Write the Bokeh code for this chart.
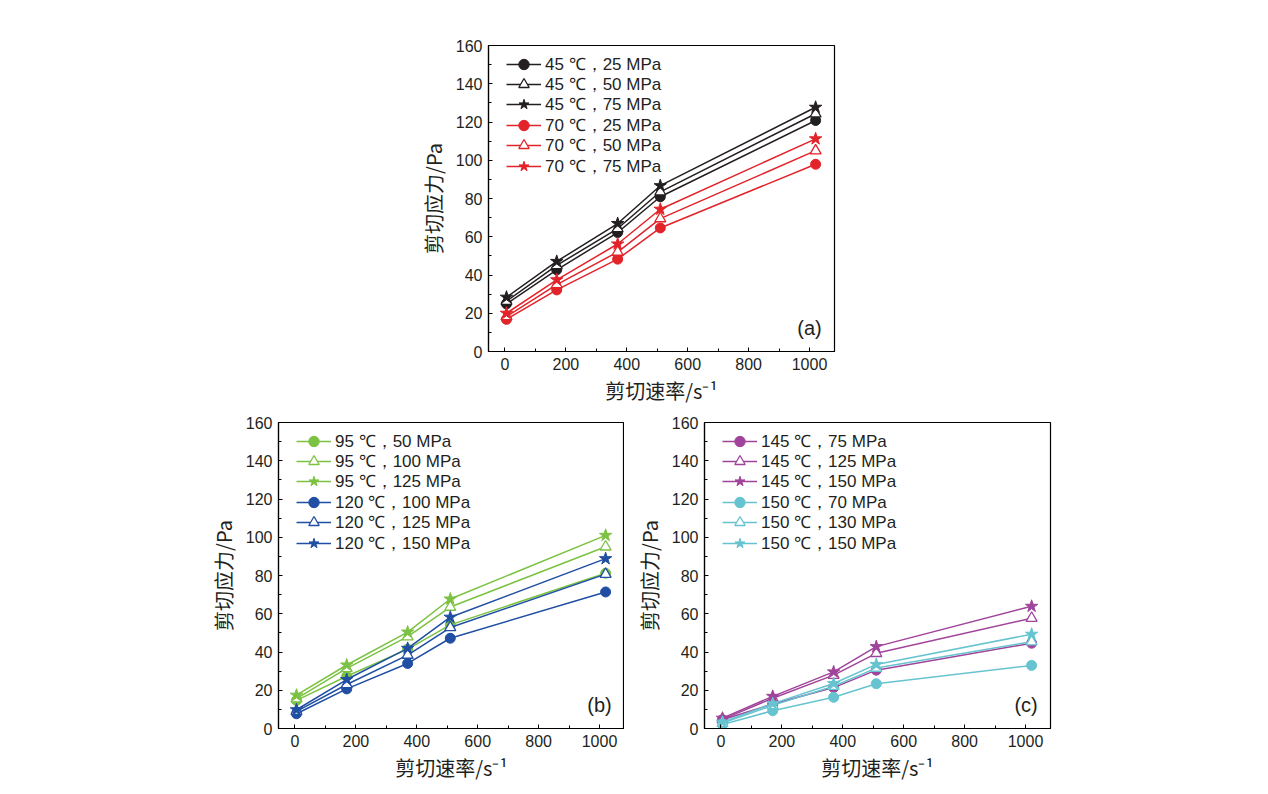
from bokeh.plotting import figure
from bokeh.models import Legend, LegendItem, Label, SingleIntervalTicker, Spacer
from bokeh.layouts import column, row
from bokeh.embed import file_html
from bokeh.resources import INLINE

# shear rate (s^-1)
shear_rate = [5, 170, 370, 510, 1020]

# panel (a)
a_labels = ["45 ℃，25 MPa", "45 ℃，50 MPa", "45 ℃，75 MPa",
            "70 ℃，25 MPa", "70 ℃，50 MPa", "70 ℃，75 MPa"]
a_45_25 = [24.9, 42.7, 62.2, 80.9, 120.8]
a_45_50 = [26.3, 45.0, 64.3, 83.5, 124.3]
a_45_75 = [28.4, 47.1, 66.9, 86.7, 127.7]
a_70_25 = [16.8, 32.2, 48.3, 64.6, 97.9]
a_70_50 = [18.3, 35.0, 52.0, 69.5, 105.0]
a_70_75 = [20.0, 37.5, 56.2, 74.4, 111.2]

# panel (b)
b_labels = ["95 ℃，50 MPa", "95 ℃，100 MPa", "95 ℃，125 MPa",
            "120 ℃，100 MPa", "120 ℃，125 MPa", "120 ℃，150 MPa"]
b_95_50 = [14.7, 27.3, 41.5, 54.2, 81.2]
b_95_100 = [15.6, 31.4, 48.0, 63.5, 95.0]
b_95_125 = [17.4, 33.2, 50.4, 67.7, 101.0]
b_120_100 = [7.7, 20.7, 34.0, 47.2, 71.4]
b_120_125 = [9.0, 23.0, 38.4, 52.8, 80.7]
b_120_150 = [9.8, 25.6, 41.9, 58.2, 88.8]

# panel (c)
c_labels = ["145 ℃，75 MPa", "145 ℃，125 MPa", "145 ℃，150 MPa",
            "150 ℃，70 MPa", "150 ℃，130 MPa", "150 ℃，150 MPa"]
c_145_75 = [4.6, 12.8, 21.4, 30.5, 44.6]
c_145_125 = [4.8, 15.8, 27.9, 39.3, 57.7]
c_145_150 = [5.4, 16.8, 29.6, 42.8, 63.9]
c_150_70 = [2.1, 9.3, 16.3, 23.4, 33.0]
c_150_130 = [2.8, 12.1, 22.1, 31.6, 45.4]
c_150_150 = [3.3, 13.0, 23.5, 33.5, 49.3]

BLACK = "#231f20"
RED = "#e3232a"
GREEN = "#7cc242"
BLUE = "#1f4ea3"
PURPLE = "#a0449b"
CYAN = "#66c4d0"

NUM_FONT = "Liberation Sans"
CJK_FONT = "Noto Sans CJK SC"

FRAME_W, FRAME_H = 346, 306
ROW_STEP = 20.4     # legend rows are tighter than one Legend allows
ITEM_H = 26


def make_panel(series, labels, colors, tag, mb_left, mb_right, mb_top, mb_bottom):
    p = figure(width=FRAME_W + mb_left + mb_right, height=FRAME_H + mb_top + mb_bottom,
               frame_width=FRAME_W, frame_height=FRAME_H,
               x_range=(-54, 1082), y_range=(0, 160),
               output_backend="svg", toolbar_location=None,
               min_border_left=mb_left, min_border_right=mb_right,
               min_border_top=mb_top, min_border_bottom=mb_bottom)
    p.grid.visible = False
    p.outline_line_color = "black"
    p.outline_line_width = 1.2
    p.background_fill_color = "white"
    p.border_fill_color = "white"

    p.xaxis.ticker = SingleIntervalTicker(interval=200, num_minor_ticks=2)
    p.yaxis.ticker = SingleIntervalTicker(interval=20, num_minor_ticks=2)
    for ax in (p.xaxis[0], p.yaxis[0]):
        ax.axis_line_color = "black"
        ax.axis_line_width = 1.2
        ax.major_tick_in = 4
        ax.major_tick_out = 0
        ax.minor_tick_in = 3
        ax.minor_tick_out = 0
        ax.major_tick_line_color = "black"
        ax.minor_tick_line_color = "black"
        ax.major_label_text_font = NUM_FONT
        ax.major_label_text_font_size = "16px"
        ax.major_label_text_color = "#231f20"
        ax.axis_label_text_font = CJK_FONT
        ax.axis_label_text_font_size = "20px"
        ax.axis_label_text_font_style = "normal"
        ax.axis_label_text_color = "#231f20"
    p.xaxis.axis_label = "剪切速率/s⁻¹"
    p.yaxis.axis_label = "剪切应力/Pa"
    p.xaxis.major_label_standoff = 6
    p.xaxis.axis_label_standoff = 3
    p.yaxis.major_label_standoff = 6
    p.yaxis.axis_label_standoff = 5

    markers = ["circle", "triangle", "star"] * 2
    for i, (ys, lab, col, mk) in enumerate(zip(series, labels, colors, markers)):
        ln = p.line(shear_rate, ys, line_color=col, line_width=1.5)
        if mk == "circle":
            sc = p.scatter(shear_rate, ys, marker="circle", size=10,
                           fill_color=col, line_color=col)
        elif mk == "triangle":
            sc = p.scatter(shear_rate, ys, marker="triangle", size=11,
                           fill_color="white", line_color=col, line_width=1.3)
        else:
            sc = p.scatter(shear_rate, ys, marker="star", size=13,
                           fill_color=col, line_color=col)
        # one legend per row, stacked by hand
        centre = 18.5 + ROW_STEP * i
        leg = Legend(items=[LegendItem(label=lab, renderers=[ln, sc])],
                     location=(18, round(FRAME_H - centre - ITEM_H / 2)),
                     border_line_color=None, background_fill_alpha=0,
                     label_text_font=NUM_FONT, label_text_font_size="17px",
                     label_text_color="#231f20",
                     glyph_width=35, glyph_height=ITEM_H, label_height=18,
                     label_standoff=4, spacing=0, padding=0, margin=0)
        p.add_layout(leg)

    p.add_layout(Label(x=1040, y=12.5, text=tag, text_align="right",
                       text_baseline="middle", text_font=NUM_FONT,
                       text_font_size="20px", text_color="#231f20"))
    return p


pa = make_panel([a_45_25, a_45_50, a_45_75, a_70_25, a_70_50, a_70_75], a_labels,
                [BLACK] * 3 + [RED] * 3, "(a)", 80, 20, 45, 57)
pb = make_panel([b_95_50, b_95_100, b_95_125, b_120_100, b_120_125, b_120_150], b_labels,
                [GREEN] * 3 + [BLUE] * 3, "(b)", 80, 0, 14, 58)
pc = make_panel([c_145_75, c_145_125, c_145_150, c_150_70, c_150_130, c_150_150], c_labels,
                [PURPLE] * 3 + [CYAN] * 3, "(c)", 80, 20, 14, 58)

layout = column(row(Spacer(width=408, height=10), pa),
                row(Spacer(width=198, height=10), pb, pc))

open("out.html", "w").write(file_html(layout, INLINE))
